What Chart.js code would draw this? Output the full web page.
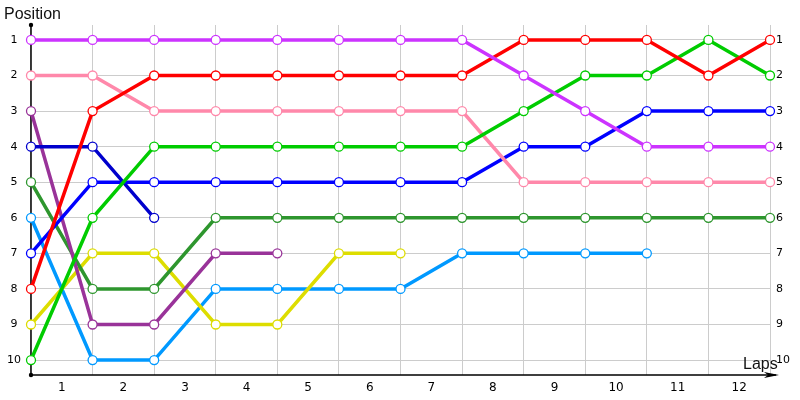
<!DOCTYPE html>
<html><head><meta charset="utf-8">
<script src="https://cdn.jsdelivr.net/npm/chart.js@4.4.1/dist/chart.umd.min.js"></script>
<style>html,body{margin:0;padding:0;background:#fff}#wrap{width:800px;height:400px;position:relative}</style>
</head><body><div id="wrap"><canvas id="c"></canvas></div>
<script>
// ---- data ----
const lapLabels = ['1','2','3','4','5','6','7','8','9','10','11','12'];
const positionTicks = [1,2,3,4,5,6,7,8,9,10];
const violetPos    = [1,1,1,1,1,1,1,1,2,3,4,4,4];
const pinkPos      = [2,2,3,3,3,3,3,3,5,5,5,5,5];
const redPos       = [8,3,2,2,2,2,2,2,1,1,1,2,1];
const greenPos     = [10,6,4,4,4,4,4,4,3,2,2,1,2];
const bluePos      = [7,5,5,5,5,5,5,5,4,4,3,3,3];
const navyPos      = [4,4,6];
const plumPos      = [3,9,9,7,7];
const darkGreenPos = [5,8,8,6,6,6,6,6,6,6,6,6,6];
const yellowPos    = [9,7,7,9,9,7,7];
const skyPos       = [6,10,10,8,8,8,8,7,7,7,7];

const seriesList = [
  {name:'violet', values:violetPos, color:'#cc33ff'},
  {name:'red', values:redPos, color:'#ff0000'},
  {name:'green', values:greenPos, color:'#00cc00'},
  {name:'pink', values:pinkPos, color:'#ff88aa'},
  {name:'blue', values:bluePos, color:'#0000ff'},
  {name:'navy', values:navyPos, color:'#0000cc'},
  {name:'plum', values:plumPos, color:'#993399'},
  {name:'darkgreen', values:darkGreenPos, color:'#2e962e'},
  {name:'yellow', values:yellowPos, color:'#dddd00'},
  {name:'sky', values:skyPos, color:'#0099ff'}
];

const FONT = 'DejaVu Sans, Verdana, sans-serif';
const TITLE_FONT = 'Liberation Sans, Arial, sans-serif';

const deco = {
  id:'deco',
  beforeDatasetsDraw(chart){
    const ctx = chart.ctx, a = chart.chartArea;
    ctx.save();
    ctx.strokeStyle = '#000';
    ctx.lineWidth = 1.5;
    ctx.beginPath();
    ctx.moveTo(a.left, a.top);
    ctx.lineTo(a.left, a.bottom);
    ctx.lineTo(a.right + 6, a.bottom);
    ctx.stroke();
    ctx.fillStyle = '#000';
    ctx.beginPath();
    ctx.moveTo(a.right - 6, a.bottom - 3);
    ctx.lineTo(a.right + 9, a.bottom);
    ctx.lineTo(a.right - 6, a.bottom + 3);
    ctx.lineTo(a.right - 2, a.bottom);
    ctx.closePath();
    ctx.fill();
    ctx.beginPath(); ctx.arc(a.left, a.top, 2.2, 0, Math.PI*2); ctx.fill();
    ctx.beginPath(); ctx.arc(a.left, a.bottom, 2.2, 0, Math.PI*2); ctx.fill();
    ctx.restore();
  },
  afterDraw(chart){
    const ctx = chart.ctx;
    ctx.save();
    ctx.fillStyle = '#111';
    ctx.font = '16px ' + TITLE_FONT;
    ctx.textBaseline = 'middle';
    ctx.textAlign = 'left';
    ctx.fillText('Position', 4, 15);
    ctx.fillText('Laps', 743, 365);
    ctx.restore();
  }
};

new Chart(document.getElementById('c'), {
  type:'line',
  data:{
    datasets: seriesList.map(s => ({
      label: s.name,
      data: s.values.map((v,i) => ({x:i, y:v})),
      borderColor: s.color,
      backgroundColor: '#ffffff',
      pointBackgroundColor: '#ffffff',
      pointBorderColor: s.color,
      borderWidth: 3.5,
      pointRadius: 4.5,
      pointBorderWidth: 1.3,
      pointHoverRadius: 4.5,
      tension: 0,
      clip: false,
      xAxisID: 'x',
      yAxisID: 'y'
    }))
  },
  options:{
    responsive:true,
    maintainAspectRatio:false,
    animation:false,
    events:[],
    layout:{padding:{top:25,left:0,right:0,bottom:0}},
    plugins:{legend:{display:false}, tooltip:{enabled:false}},
    scales:{
      x:{type:'linear', min:0, max:12, display:false},
      xLab:{
        type:'category', labels: lapLabels, position:'bottom', offset:true,
        grid:{color:'#cccccc', offset:true, drawTicks:false, lineWidth:1},
        border:{display:false},
        ticks:{padding:6, color:'#000', font:{family:FONT, size:12}},
        afterFit(s){ s.height = 25; }
      },
      y:{
        type:'linear', reverse:true, min:0.58, max:10.42, position:'left',
        grid:{color:'#cccccc', drawTicks:false, lineWidth:1},
        border:{display:false},
        ticks:{padding:10, crossAlign:'center', color:'#000', font:{family:FONT, size:11}},
        afterBuildTicks(s){ s.ticks = positionTicks.map(v => ({value:v})); },
        afterFit(s){ s.width = 31; }
      },
      y2:{
        type:'linear', reverse:true, min:0.58, max:10.42, position:'right',
        grid:{display:false, drawTicks:false},
        border:{display:false},
        ticks:{padding:6, color:'#000', font:{family:FONT, size:11}},
        afterBuildTicks(s){ s.ticks = positionTicks.map(v => ({value:v})); },
        afterFit(s){ s.width = 30; }
      }
    }
  },
  plugins:[deco]
});
</script>
</body></html>
